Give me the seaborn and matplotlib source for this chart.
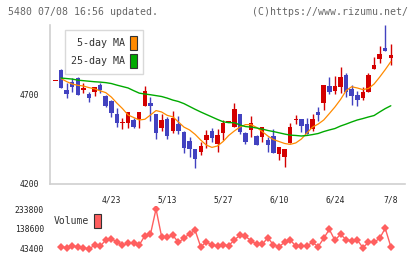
import numpy as np
import pandas as pd
import matplotlib
matplotlib.use("Agg")
import matplotlib.pyplot as plt
import seaborn as sns
from matplotlib.patches import Patch

# --- DADOS ---

day_labels = ["4/23", "5/13", "5/27", "6/10", "6/24", "7/8"]
label_pos = [9, 19, 29, 39, 49, 59]

# candles: o primeiro (-1) é um doji cortado na borda esquerda
candle_idx = list(range(-1, 60))
opens = [4777, 4838, 4725, 4769, 4791, 4724, 4703, 4712, 4753, 4693,
         4665, 4590, 4538, 4538, 4557, 4560, 4637, 4654, 4590, 4514,
         4562, 4497, 4534, 4491, 4439, 4396, 4379, 4444, 4495, 4420,
         4485, 4542, 4519, 4590, 4486, 4501, 4467, 4459, 4444, 4467,
         4364, 4351, 4429, 4557, 4560, 4534, 4504, 4604, 4654, 4748,
         4722, 4744, 4810, 4729, 4697, 4682, 4716, 4841, 4899, 4959,
         4907]
highs = [4777, 4845, 4763, 4791, 4800, 4763, 4712, 4744, 4763, 4697,
         4669, 4622, 4566, 4603, 4566, 4603, 4748, 4688, 4590, 4590,
         4575, 4609, 4579, 4497, 4463, 4396, 4435, 4500, 4513, 4506,
         4557, 4542, 4654, 4590, 4491, 4579, 4472, 4519, 4463, 4504,
         4407, 4394, 4542, 4585, 4560, 4566, 4590, 4632, 4753, 4800,
         4804, 4853, 4823, 4753, 4721, 4744, 4819, 4913, 4973, 5091,
         4984]
lows = [4777, 4735, 4679, 4712, 4695, 4707, 4660, 4693, 4710, 4632,
        4575, 4519, 4506, 4510, 4510, 4510, 4637, 4553, 4452, 4495,
        4452, 4482, 4478, 4370, 4350, 4285, 4360, 4398, 4431, 4379,
        4444, 4542, 4519, 4478, 4422, 4463, 4416, 4435, 4379, 4373,
        4332, 4294, 4429, 4534, 4491, 4478, 4497, 4551, 4613, 4703,
        4703, 4710, 4688, 4641, 4635, 4669, 4716, 4841, 4875, 4946,
        4866]
closes = [4777, 4738, 4703, 4744, 4697, 4735, 4679, 4744, 4725, 4637,
          4598, 4538, 4547, 4600, 4519, 4600, 4720, 4637, 4482, 4557,
          4469, 4568, 4497, 4398, 4392, 4336, 4412, 4472, 4457, 4472,
          4538, 4542, 4619, 4491, 4435, 4542, 4416, 4519, 4416, 4373,
          4407, 4394, 4519, 4562, 4523, 4478, 4560, 4585, 4753, 4716,
          4748, 4796, 4716, 4692, 4669, 4716, 4810, 4866, 4926, 4946,
          4922]

day_idx = list(range(60))
ma5 = [4790, 4773, 4759, 4752, 4748, 4739, 4732, 4721, 4711, 4686,
       4652, 4621, 4585, 4571, 4557, 4561, 4585, 4610, 4602, 4583,
       4575, 4546, 4517, 4501, 4476, 4444, 4416, 4403, 4411, 4436,
       4470, 4495, 4517, 4531, 4531, 4515, 4492, 4467, 4447, 4436,
       4425, 4420, 4428, 4450, 4484, 4517, 4534, 4557, 4593, 4630,
       4672, 4722, 4744, 4737, 4728, 4734, 4759, 4798, 4840, 4885]
ma25 = [4793, 4790, 4787, 4781, 4778, 4775, 4772, 4770, 4767, 4762,
        4753, 4745, 4737, 4722, 4708, 4703, 4699, 4694, 4689, 4680,
        4669, 4661, 4649, 4633, 4617, 4602, 4588, 4574, 4560, 4547,
        4542, 4542, 4529, 4520, 4517, 4512, 4506, 4498, 4492, 4485,
        4478, 4472, 4470, 4467, 4470, 4475, 4481, 4492, 4501, 4509,
        4523, 4534, 4546, 4557, 4565, 4574, 4582, 4602, 4621, 4637]
volume = [54000, 49600, 57700, 54000, 49600, 43400, 61000, 56000, 86000, 92400,
          76700, 61000, 70500, 70500, 62400, 106700, 113400, 233800, 102000, 99000,
          108600, 75300, 94300, 116200, 132000, 52900, 78100, 61000, 59100, 62400,
          59300, 86200, 108500, 103700, 83100, 65600, 65600, 97300, 62400, 54500,
          75100, 86200, 57700, 57700, 59300, 75100, 54500, 94200, 137000, 84700,
          113200, 87800, 81500, 86200, 49700, 75100, 75100, 94200, 141800, 54500]

# --- CORES ---
RED = "#d40000"
BLUE = "#4242c0"
ORANGE = "#ff8a00"
GREEN = "#00aa00"
VOL = "#ff5f5f"
AXIS = "#d0d0d0"

sns.set_style("white")
plt.rcParams["font.family"] = ["DejaVu Sans Mono"]

fig = plt.figure(figsize=(4.2, 2.59), dpi=100)
ax = fig.add_axes([50 / 420, 1 - 183.5 / 259, 355 / 420, 158.5 / 259])
axv = fig.add_axes([50 / 420, 1 - 253.9 / 259, 355 / 420, 48.3 / 259])

# --- candles ---
df = pd.DataFrame({"i": candle_idx, "o": opens, "h": highs, "l": lows, "c": closes})
cols = np.where(df["c"] >= df["o"], RED, BLUE)
body_h = np.maximum((df["c"] - df["o"]).abs(), 7)
ax.vlines(df["i"], df["l"], df["h"], colors=cols, lw=1.0, zorder=2)
ax.bar(df["i"], body_h, bottom=np.minimum(df["o"], df["c"]), width=0.8,
       color=cols, linewidth=0, zorder=2)

# --- médias móveis ---
sns.lineplot(x=day_idx, y=ma5, color=ORANGE, lw=0.9, ax=ax, zorder=3)
sns.lineplot(x=day_idx, y=ma25, color=GREEN, lw=1.0, ax=ax, zorder=3)

x0, x1 = (50 - 61) / 5.59, (405 - 61) / 5.59
ax.set_xlim(x0, x1)
ax.set_ylim(4200, 5091)
for s in ["top", "right"]:
    ax.spines[s].set_visible(False)
for s in ["left", "bottom"]:
    ax.spines[s].set_color(AXIS)
    ax.spines[s].set_linewidth(1.2)

ax.set_yticks([4200, 4700])
ax.set_yticklabels(["4200", "4700"])
ax.tick_params(axis="y", direction="inout", length=8, width=1.2, color=AXIS,
               pad=4, labelsize=5.8, labelcolor="#222")
ax.set_xticks(label_pos)
ax.set_xticklabels(day_labels)
ax.set_xticks(np.linspace(x0, x1, 12), minor=True)
ax.tick_params(axis="x", which="major", length=0, pad=8.5, labelsize=5.8, labelcolor="#222")
ax.tick_params(axis="x", which="minor", direction="inout", length=7, width=1.2, color=AXIS)
ax.set_xlabel("")
ax.set_ylabel("")

leg = ax.legend(handles=[Patch(facecolor=ORANGE, edgecolor="#333", lw=0.8),
                         Patch(facecolor=GREEN, edgecolor="#333", lw=0.8)],
                labels=["5-day MA", "25-day MA"],
                loc="upper left", bbox_to_anchor=(0.042, 0.968), borderaxespad=0,
                markerfirst=False, handlelength=0.7, handleheight=1.8,
                handletextpad=0.5, labelspacing=0.35, borderpad=0.6,
                fontsize=7.2, frameon=True, fancybox=False, labelcolor="#333")
leg.get_frame().set_edgecolor("#d0d0d0")
leg.get_frame().set_linewidth(1.0)
for t in leg.get_texts():
    t.set_ha("right")

# --- volume ---
sns.lineplot(x=day_idx, y=volume, color=VOL, lw=1.0, marker="D", markersize=3.6,
             markeredgewidth=0, ax=axv)
axv.set_xlim(x0, x1)
axv.set_ylim(20000, 250000)
for s in axv.spines.values():
    s.set_visible(False)
axv.set_xticks([])
axv.set_yticks([43400, 138600, 233800])
axv.set_yticklabels(["43400", "138600", "233800"])
axv.tick_params(axis="y", length=0, pad=4.3, labelsize=5.8, labelcolor="#222")
axv.set_xlabel("")
axv.set_ylabel("")
axv.legend(handles=[Patch(facecolor=VOL, edgecolor="#333", lw=0.8)], labels=["Volume"],
           loc="center left", bbox_to_anchor=(0.0, 0.68), borderaxespad=0,
           markerfirst=False, handlelength=0.7, handleheight=1.8, handletextpad=0.5,
           fontsize=7, frameon=False, labelcolor="#333")

fig.text(8 / 420, 1 - 12 / 259, "5480 07/08 16:56 updated.", ha="left", va="center",
         fontsize=7.1, color="#666")
fig.text(408 / 420, 1 - 12 / 259, "(C)https://www.rizumu.net/", ha="right", va="center",
         fontsize=7.1, color="#666")

fig.savefig("out.png", dpi=100)
